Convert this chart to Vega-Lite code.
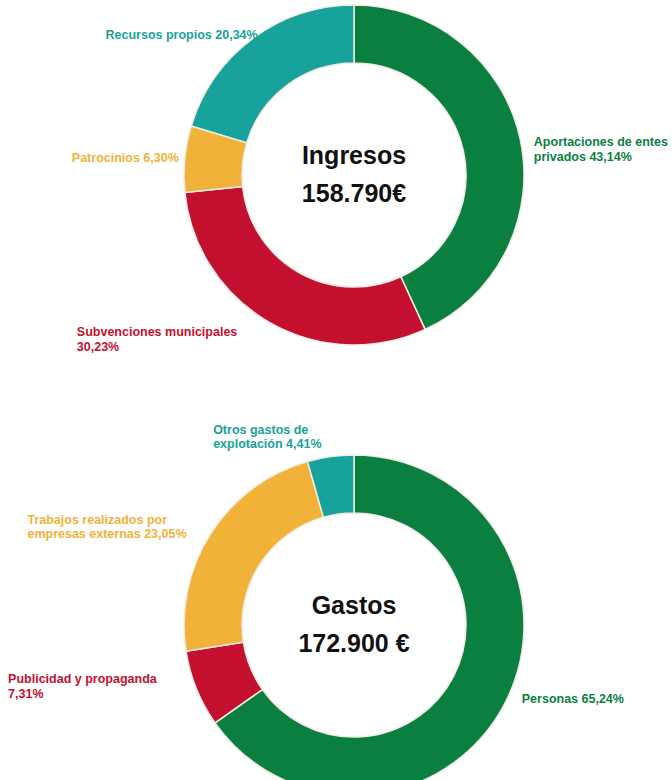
{
  "$schema": "https://vega.github.io/schema/vega-lite/v6.json",
  "width": 636,
  "height": 780,
  "autosize": {"type": "none"},
  "padding": {"left": 36, "top": 0, "right": 0, "bottom": 0},
  "background": "white",
  "config": {"view": {"stroke": null}, "text": {"font": "Liberation Sans"}},
  "datasets": {
    "partes": [
      {"grafico": "Ingresos", "concepto": "Aportaciones de entes privados", "porcentaje": 43.14, "orden": 1, "etiqueta": "Aportaciones de entes\nprivados 43,14%"},
      {"grafico": "Ingresos", "concepto": "Subvenciones municipales", "porcentaje": 30.23, "orden": 2, "etiqueta": "Subvenciones municipales\n30,23%"},
      {"grafico": "Ingresos", "concepto": "Patrocinios", "porcentaje": 6.30, "orden": 3, "etiqueta": "Patrocinios 6,30%"},
      {"grafico": "Ingresos", "concepto": "Recursos propios", "porcentaje": 20.34, "orden": 4, "etiqueta": "Recursos propios 20,34%"},
      {"grafico": "Gastos", "concepto": "Personas", "porcentaje": 65.24, "orden": 1, "etiqueta": "Personas 65,24%"},
      {"grafico": "Gastos", "concepto": "Publicidad y propaganda", "porcentaje": 7.31, "orden": 2, "etiqueta": "Publicidad y propaganda\n7,31%"},
      {"grafico": "Gastos", "concepto": "Trabajos realizados por empresas externas", "porcentaje": 23.05, "orden": 3, "etiqueta": "Trabajos realizados por\nempresas externas 23,05%"},
      {"grafico": "Gastos", "concepto": "Otros gastos de explotación", "porcentaje": 4.41, "orden": 4, "etiqueta": "Otros gastos de\nexplotación 4,41%"}
    ],
    "centros": [
      {"grafico": "Ingresos", "titulo": "Ingresos", "total": "158.790€"},
      {"grafico": "Gastos", "titulo": "Gastos", "total": "172.900 €"}
    ]
  },
  "data": {"name": "partes"},
  "encoding": {
    "y": {"field": "grafico", "type": "nominal", "scale": {"type": "point", "domain": ["Ingresos", "Gastos"], "range": [175, 625], "padding": 0}, "axis": null},
    "color": {
      "field": "concepto", "type": "nominal", "legend": null,
      "scale": {
        "domain": ["Aportaciones de entes privados", "Subvenciones municipales", "Patrocinios", "Recursos propios", "Personas", "Publicidad y propaganda", "Trabajos realizados por empresas externas", "Otros gastos de explotación"],
        "range": ["#0b7f3f", "#c4102f", "#f1b23a", "#17a29b", "#0b7f3f", "#c4102f", "#f1b23a", "#17a29b"]
      }
    }
  },
  "layer": [
    {
      "transform": [{"filter": "datum.grafico === 'Ingresos'"}],
      "mark": {"type": "arc", "innerRadius": 112, "outerRadius": 170, "stroke": "#f2ece4", "strokeWidth": 1.5},
      "encoding": {
        "theta": {"field": "porcentaje", "type": "quantitative", "stack": true},
        "order": {"field": "orden", "type": "quantitative"}
      }
    },
    {
      "transform": [{"filter": "datum.grafico === 'Gastos'"}],
      "mark": {"type": "arc", "innerRadius": 112, "outerRadius": 170, "stroke": "#f2ece4", "strokeWidth": 1.5},
      "encoding": {
        "theta": {"field": "porcentaje", "type": "quantitative", "stack": true},
        "order": {"field": "orden", "type": "quantitative"}
      }
    },
    {
      "transform": [{"filter": "datum.grafico === 'Ingresos'"}],
      "mark": {"type": "text", "radius": 180, "align": "left", "baseline": "middle", "dx": 4, "dy": 6, "fontSize": 12.5, "fontWeight": "bold", "lineBreak": "\n", "lineHeight": 15},
      "encoding": {
        "theta": {"field": "porcentaje", "type": "quantitative", "stack": true},
        "order": {"field": "orden", "type": "quantitative"},
        "text": {"condition": {"test": "datum.concepto === 'Aportaciones de entes privados'", "field": "etiqueta"}, "value": ""}
      }
    },
    {
      "transform": [{"filter": "datum.grafico === 'Ingresos'"}],
      "mark": {"type": "text", "radius": 180, "align": "left", "baseline": "middle", "dx": -188, "dy": 1, "fontSize": 12.5, "fontWeight": "bold", "lineBreak": "\n", "lineHeight": 14.5},
      "encoding": {
        "theta": {"field": "porcentaje", "type": "quantitative", "stack": true},
        "order": {"field": "orden", "type": "quantitative"},
        "text": {"condition": {"test": "datum.concepto === 'Subvenciones municipales'", "field": "etiqueta"}, "value": ""}
      }
    },
    {
      "transform": [{"filter": "datum.grafico === 'Ingresos'"}],
      "mark": {"type": "text", "radius": 180, "align": "right", "baseline": "middle", "dx": 4, "dy": 0, "fontSize": 12.5, "fontWeight": "bold", "lineBreak": "\n"},
      "encoding": {
        "theta": {"field": "porcentaje", "type": "quantitative", "stack": true},
        "order": {"field": "orden", "type": "quantitative"},
        "text": {"condition": {"test": "datum.concepto === 'Patrocinios'", "field": "etiqueta"}, "value": ""}
      }
    },
    {
      "transform": [{"filter": "datum.grafico === 'Ingresos'"}],
      "mark": {"type": "text", "radius": 180, "align": "right", "baseline": "middle", "dx": 11, "dy": 4, "fontSize": 12.5, "fontWeight": "bold", "lineBreak": "\n"},
      "encoding": {
        "theta": {"field": "porcentaje", "type": "quantitative", "stack": true},
        "order": {"field": "orden", "type": "quantitative"},
        "text": {"condition": {"test": "datum.concepto === 'Recursos propios'", "field": "etiqueta"}, "value": ""}
      }
    },
    {
      "transform": [{"filter": "datum.grafico === 'Gastos'"}],
      "mark": {"type": "text", "radius": 180, "align": "left", "baseline": "middle", "dx": 8, "dy": -9, "fontSize": 12.5, "fontWeight": "bold", "lineBreak": "\n"},
      "encoding": {
        "theta": {"field": "porcentaje", "type": "quantitative", "stack": true},
        "order": {"field": "orden", "type": "quantitative"},
        "text": {"condition": {"test": "datum.concepto === 'Personas'", "field": "etiqueta"}, "value": ""}
      }
    },
    {
      "transform": [{"filter": "datum.grafico === 'Gastos'"}],
      "mark": {"type": "text", "radius": 180, "align": "left", "baseline": "middle", "dx": -179, "dy": -13, "fontSize": 12.5, "fontWeight": "bold", "lineBreak": "\n", "lineHeight": 14.5},
      "encoding": {
        "theta": {"field": "porcentaje", "type": "quantitative", "stack": true},
        "order": {"field": "orden", "type": "quantitative"},
        "text": {"condition": {"test": "datum.concepto === 'Publicidad y propaganda'", "field": "etiqueta"}, "value": ""}
      }
    },
    {
      "transform": [{"filter": "datum.grafico === 'Gastos'"}],
      "mark": {"type": "text", "radius": 180, "align": "left", "baseline": "middle", "dx": -175, "dy": -8, "fontSize": 12.5, "fontWeight": "bold", "lineBreak": "\n", "lineHeight": 14.5},
      "encoding": {
        "theta": {"field": "porcentaje", "type": "quantitative", "stack": true},
        "order": {"field": "orden", "type": "quantitative"},
        "text": {"condition": {"test": "datum.concepto === 'Trabajos realizados por empresas externas'", "field": "etiqueta"}, "value": ""}
      }
    },
    {
      "transform": [{"filter": "datum.grafico === 'Gastos'"}],
      "mark": {"type": "text", "radius": 180, "align": "left", "baseline": "middle", "dx": -116, "dy": -17, "fontSize": 12.5, "fontWeight": "bold", "lineBreak": "\n", "lineHeight": 14.5},
      "encoding": {
        "theta": {"field": "porcentaje", "type": "quantitative", "stack": true},
        "order": {"field": "orden", "type": "quantitative"},
        "text": {"condition": {"test": "datum.concepto === 'Otros gastos de explotación'", "field": "etiqueta"}, "value": ""}
      }
    },
    {
      "data": {"name": "centros"},
      "mark": {"type": "text", "align": "center", "baseline": "middle", "dy": -19, "fontSize": 25, "fontWeight": "bold", "color": "#111111"},
      "encoding": {
        "y": {"field": "grafico", "type": "nominal"},
        "text": {"field": "titulo"},
        "color": {"value": "#111111"}
      }
    },
    {
      "data": {"name": "centros"},
      "mark": {"type": "text", "align": "center", "baseline": "middle", "dy": 19, "fontSize": 25, "fontWeight": "bold", "color": "#111111"},
      "encoding": {
        "y": {"field": "grafico", "type": "nominal"},
        "text": {"field": "total"},
        "color": {"value": "#111111"}
      }
    }
  ]
}
